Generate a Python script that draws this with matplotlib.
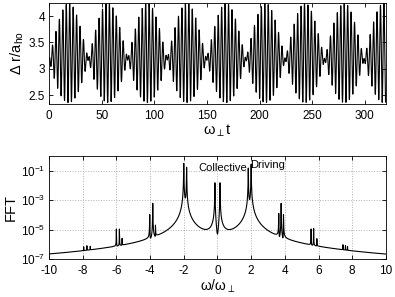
import matplotlib
matplotlib.use('Agg')
import matplotlib.pyplot as plt
import numpy as np

plt.rcParams['font.family'] = ['Liberation Sans', 'DejaVu Sans']
plt.rcParams['mathtext.fontset'] = 'custom'
plt.rcParams['mathtext.rm'] = 'Liberation Sans'
plt.rcParams['mathtext.it'] = 'Liberation Sans:italic'
plt.rcParams['mathtext.default'] = 'regular'
plt.rcParams['axes.unicode_minus'] = False

# top panel: beating oscillation
t_end = 320.0
r_mean = 3.24
mode_freq = [2.0, 1.832, 0.168]      # driving, collective, slow beat
mode_amp = [0.48, -0.465, -0.06]
mode_kind = ['sin', 'sin', 'cos']

# bottom panel: spectral peaks
# (centre, peak height, group of neighbouring lines, phase in quarter turns)
peak_freq = [-7.94, -7.75, -7.55, -6.0, -5.82, -5.66, -4.02, -3.84, -3.68,
             -2.0, -1.83, -0.15, 0.15, 1.83, 2.0, 3.64, 3.78, 3.92,
             5.56, 5.71, 5.9, 7.45, 7.6, 7.72]
peak_height = [3e-7, 4e-7, 3e-7, 1e-5, 1e-5, 1.6e-6, 1e-4, 6e-4, 1.5e-5,
               0.3, 0.16, 0.015, 0.015, 0.16, 0.28, 1.2e-4, 6e-4, 1e-4,
               1e-5, 1.1e-5, 1.6e-6, 5e-7, 4e-7, 3e-7]
peak_group = [-4, -4, -4, -3, -3, -3, -2, -2, -2,
              -1, -1, 0, 0, 1, 1, 2, 2, 2,
              3, 3, 3, 4, 4, 4]
peak_phase = [0, 0, 0, 0, 0, 0, 0, 0, 0,
              0, 1, 0, 0, 1, 0, 0, 0, 0,
              0, 0, 0, 0, 0, 0]
peak_width = 0.0045

xt_top = [0, 50, 100, 150, 200, 250, 300]
yt_top = [2.5, 3, 3.5, 4]
xt_bot = [-10, -8, -6, -4, -2, 0, 2, 4, 6, 8, 10]
yt_bot = [1e-7, 1e-5, 1e-3, 1e-1]

t = np.linspace(0, t_end, 16001)
r = np.full_like(t, r_mean)
for f, a, k in zip(mode_freq, mode_amp, mode_kind):
    r += a * (np.sin(f * t) if k == 'sin' else np.cos(f * t))

w = np.linspace(-10, 10, 20001)
fft_pow = np.zeros_like(w)
for g in sorted(set(peak_group)):
    amp = np.zeros_like(w, dtype=complex)
    for c, h, gg, ph in zip(peak_freq, peak_height, peak_group, peak_phase):
        if gg == g:
            amp += np.sqrt(h) * 1j ** ph * peak_width / (w - c + 1j * peak_width)
    fft_pow += np.abs(amp) ** 2

fig = plt.figure(figsize=(3.95, 2.97), dpi=100)
ax1 = fig.add_axes([0.124, 0.650, 0.853, 0.340])
ax2 = fig.add_axes([0.124, 0.128, 0.853, 0.347])

ax1.plot(t, r, c='black', lw=0.8)
ax1.set_xlim(0, t_end)
ax1.set_ylim(2.33, 4.25)
ax1.set_xticks(xt_top)
ax1.set_yticks(yt_top)
ax1.set_yticklabels(['2.5', '3', '3.5', '4'])
ax1.set_ylabel(r'$\Delta$ r/a$_{\rm ho}$', fontsize=10.5, labelpad=2)

ax2.semilogy(w, fft_pow, c='black', lw=0.8)
ax2.set_xlim(-10, 10)
ax2.set_ylim(1e-7, 1e0)
ax2.set_xticks(xt_bot)
ax2.set_yticks(yt_bot)
ax2.set_yticks([], minor=True)
ax2.grid(True, ls=':', c='#b0b0b0', lw=0.7)
ax2.set_ylabel('FFT', fontsize=10.5, labelpad=2)
ax2.text(1.78, 10 ** -0.8, 'Collective', ha='right', va='center', fontsize=8)
ax2.text(1.93, 10 ** -0.62, 'Driving', ha='left', va='center', fontsize=8)

for ax in (ax1, ax2):
    ax.tick_params(direction='in', top=True, right=True, labelsize=8.5, length=3, width=0.6, pad=3)
    ax.tick_params(axis='x', pad=4.5)
    for s in ax.spines.values():
        s.set_linewidth(0.6)

ax1.set_xlabel(r'$\omega_\perp$t', fontsize=10.5, labelpad=0)
ax2.set_xlabel(r'$\omega/\omega_\perp$', fontsize=10, labelpad=0)

fig.savefig('out.png', dpi=100)
